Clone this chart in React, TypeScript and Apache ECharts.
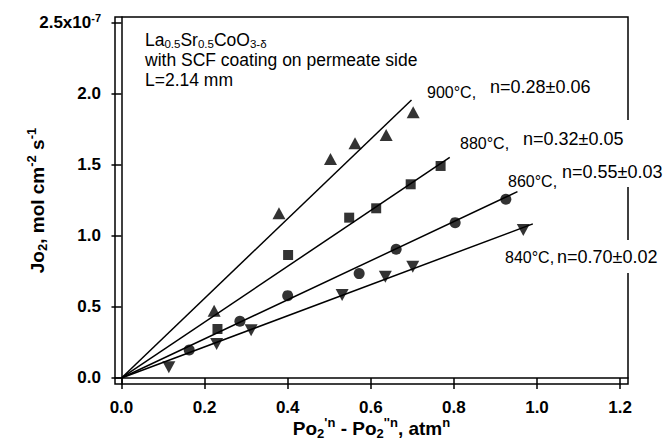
import React, { useEffect, useRef } from "react";
import * as echarts from "echarts";

// Axis ticks
const xTicks = [0, 0.2, 0.4, 0.6, 0.8, 1.0, 1.2];
const yTicks = [0, 0.5, 1.0, 1.5, 2.0, 2.5];

// Data (Jo2 in units of 1e-7 mol cm^-2 s^-1)
const x900 = [0.223, 0.379, 0.503, 0.562, 0.637, 0.702];
const y900 = [0.474, 1.16, 1.542, 1.653, 1.711, 1.871];
const x880 = [0.231, 0.401, 0.548, 0.613, 0.696, 0.768];
const y880 = [0.345, 0.866, 1.129, 1.195, 1.364, 1.493];
const x860 = [0.163, 0.285, 0.4, 0.572, 0.661, 0.803, 0.925];
const y860 = [0.197, 0.4, 0.58, 0.735, 0.906, 1.094, 1.258];
const x840 = [0.114, 0.229, 0.312, 0.531, 0.635, 0.701, 0.967];
const y840 = [0.075, 0.239, 0.336, 0.585, 0.713, 0.784, 1.042];

// Fitted lines (start, end)
const fit900X = [0, 0.698];
const fit900Y = [0, 1.958];
const fit880X = [0, 0.79];
const fit880Y = [0, 1.554];
const fit860X = [0, 0.953];
const fit860Y = [0, 1.312];
const fit840X = [0, 0.99];
const fit840Y = [0, 1.085];

const tempLabels = ["900°C,", "880°C,", "860°C,", "840°C,"];
const nLabels = ["n=0.28±0.06", "n=0.32±0.05", "n=0.55±0.03", "n=0.70±0.02"];

const FONT = "'Liberation Sans', Arial, Helvetica, sans-serif";

const zip = (xs: number[], ys: number[]) => xs.map((x, i) => [x, ys[i]]);

export default function App() {
  const ref = useRef<HTMLDivElement>(null);
  useEffect(() => {
    if (!ref.current) return;
    const chart = echarts.init(ref.current, undefined, { renderer: "svg" });
    const black = "#000";
    const lineSeries = (xs: number[], ys: number[]) => ({
      type: "line",
      data: zip(xs, ys),
      symbol: "none",
      lineStyle: { color: black, width: 1.5 },
      z: 2,
    });
    const scatter = (xs: number[], ys: number[], symbol: string, size: any, rotate = 0) => ({
      type: "scatter",
      data: zip(xs, ys),
      symbol,
      symbolSize: size,
      symbolRotate: rotate,
      itemStyle: { color: black },
      z: 3,
    });
    const labPos = [
      { t: [427, 92], n: [490, 87] },
      { t: [460, 143], n: [523, 139] },
      { t: [508, 181], n: [562, 172] },
      { t: [505, 257], n: [557, 257] },
    ];
    const annotation: any[] = [];
    labPos.forEach((p, i) => {
      annotation.push({
        type: "text",
        x: p.t[0],
        y: p.t[1],
        z: 20,
        style: {
          text: tempLabels[i],
          font: `16px ${FONT}`,
          fill: black,
          verticalAlign: "middle",
          align: "left",
        },
      });
      annotation.push({
        type: "text",
        x: p.n[0],
        y: p.n[1],
        z: 20,
        style: {
          text: nLabels[i],
          font: `18px ${FONT}`,
          fill: black,
          verticalAlign: "middle",
          align: "left",
        },
      });
    });
    const nameRich = {
      n: { fontSize: 19, fontWeight: "bold", fontFamily: FONT, color: black, lineHeight: 24 },
      sub: { fontSize: 13, fontWeight: "bold", fontFamily: FONT, color: black, lineHeight: 12, verticalAlign: "bottom" },
      sup: { fontSize: 13, fontWeight: "bold", fontFamily: FONT, color: black, lineHeight: 13, verticalAlign: "top" },
    };
    chart.setOption({
      animation: false,
      backgroundColor: "#fff",
      grid: {
        left: 115,
        top: 17,
        width: 513,
        height: 367,
        show: true,
        borderColor: black,
        borderWidth: 1.5,
        backgroundColor: "transparent",
        containLabel: false,
        outerBoundsMode: "none",
      },
      xAxis: {
        type: "value",
        min: -0.0156,
        max: 1.219,
        axisLine: { show: true, lineStyle: { color: black, width: 1.5 } },
        axisTick: {
          show: true,
          inside: false,
          length: 11,
          customValues: xTicks,
          lineStyle: { color: black, width: 1.5 },
        },
        axisLabel: {
          customValues: xTicks,
          formatter: (v: number) => v.toFixed(1),
          fontSize: 17,
          fontWeight: "bold",
          fontFamily: FONT,
          color: black,
          margin: 15,
        },
        splitLine: { show: false },
        name: "{n|Po}{sub|2}{sup|'n}{n| - Po}{sub|2}{sup|''n}{n|, atm}{sup|n}",
        nameLocation: "middle",
        nameGap: 32,
        nameMoveOverlap: false,
        nameTextStyle: { rich: nameRich },
      },
      yAxis: {
        type: "value",
        min: -0.0423,
        max: 2.542,
        axisLine: { show: true, lineStyle: { color: black, width: 1.5 } },
        axisTick: {
          show: true,
          inside: false,
          length: 10,
          customValues: yTicks,
          lineStyle: { color: black, width: 1.5 },
        },
        axisLabel: {
          customValues: yTicks,
          formatter: (v: number) =>
            Math.abs(v - 2.5) < 1e-9 ? "{b|2.5x10}{s|-7}" : `{b|${v.toFixed(1)}}`,
          margin: 14,
          rich: {
            b: { fontSize: 17, fontWeight: "bold", fontFamily: FONT, color: black, lineHeight: 20 },
            s: { fontSize: 11, fontWeight: "bold", fontFamily: FONT, color: black, lineHeight: 11, verticalAlign: "top" },
          },
        },
        splitLine: { show: false },
        name: "{n|Jo}{sub|2}{n|, mol cm}{sup|-2}{n| s}{sup|-1}",
        nameLocation: "middle",
        nameGap: 66,
        nameRotate: 90,
        nameMoveOverlap: false,
        nameTextStyle: { rich: nameRich },
      },
      graphic: [
        { type: "rect", z: 15, shape: { x: 620, y: 120, width: 16, height: 67 }, style: { fill: "#fff" } },
        { type: "rect", z: 15, shape: { x: 620, y: 240, width: 16, height: 33 }, style: { fill: "#fff" } },
        {
          type: "text",
          x: 145,
          y: 30,
          z: 20,
          style: {
            text:
              "{n|La}{sub|0.5}{n|Sr}{sub|0.5}{n|CoO}{sub|3-δ}\n{n|with SCF coating on permeate side}\n{n|L=2.14 mm}",
            rich: {
              n: { fontSize: 17.5, fontFamily: FONT, fill: black, lineHeight: 20 },
              sub: { fontSize: 11.5, fontFamily: FONT, fill: black, lineHeight: 10, verticalAlign: "bottom" },
            },
          },
        },
        ...annotation,
      ],
      series: [
        lineSeries(fit900X, fit900Y),
        lineSeries(fit880X, fit880Y),
        lineSeries(fit860X, fit860Y),
        lineSeries(fit840X, fit840Y),
        scatter(x900, y900, "triangle", [13, 12]),
        scatter(x880, y880, "rect", 10),
        scatter(x860, y860, "circle", 11),
        scatter(x840, y840, "triangle", [13, 12], 180),
      ],
    });
    return () => chart.dispose();
  }, []);
  return (
    <div
      ref={ref}
      style={{ position: "fixed", left: 0, top: 0, width: 670, height: 440, background: "#fff" }}
    />
  );
}
